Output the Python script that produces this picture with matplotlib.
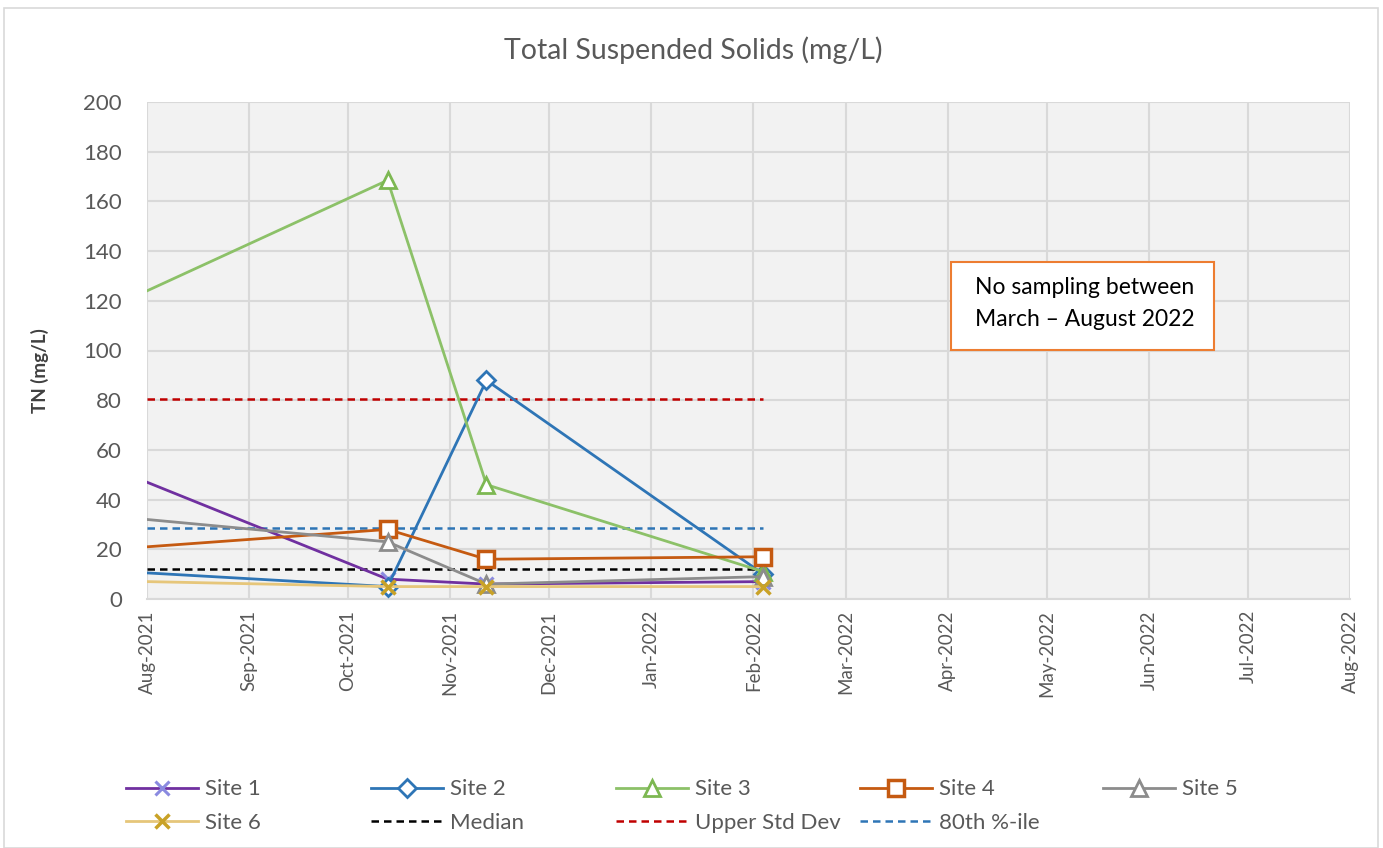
import matplotlib
matplotlib.use("Agg")
import matplotlib.pyplot as plt
import matplotlib.dates as mdates
from matplotlib.patches import Rectangle
from datetime import datetime

plt.rcParams['font.family'] = ['Lato', 'DejaVu Sans']

# sampling dates (first point is the clipped value at the left axis edge)
dates = [datetime(2021, 8, 1), datetime(2021, 10, 13), datetime(2021, 11, 12), datetime(2022, 2, 4)]
site1 = [47, 8, 6, 7]
site2 = [10.5, 5, 88, 10]
site3 = [124, 168.5, 46, 11]
site4 = [21, 28, 16, 17]
site5 = [32, 23, 6, 9]
site6 = [7, 5, 5, 5]
ref_dates = [datetime(2021, 8, 1), datetime(2022, 2, 4)]
median = 12
upper_std = 80.5
pct80 = 28.5

xticks = [datetime(2021, m, 1) for m in range(8, 13)] + [datetime(2022, m, 1) for m in range(1, 9)]

W, H = 1383, 848
fig = plt.figure(figsize=(W/100, H/100), dpi=100)
ax = fig.add_axes([147/W, 1 - 599/H, (1350-147)/W, (599-102)/H])
ax.set_facecolor('#F2F2F2')

mk = [1, 2, 3]
ax.plot(dates, site1, color='#7030A0', lw=2, marker='x', ms=10, mew=2.2, mec='#8A8AE0', markevery=mk, label='Site 1', zorder=3)
ax.plot(dates, site2, color='#2E75B6', lw=2, marker='D', ms=9, mew=2, mfc='white', mec='#2E75B6', markevery=mk, label='Site 2', zorder=3)
ax.plot(dates, site3, color='#8CC168', lw=2, marker='^', ms=12, mew=2, mfc='white', mec='#7DB852', markevery=mk, label='Site 3', zorder=3)
ax.plot(dates, site4, color='#C55A11', lw=2, marker='s', ms=12, mew=2.5, mfc='white', mec='#C55A11', markevery=mk, label='Site 4', zorder=3)
ax.plot(dates, site5, color='#8C8C8C', lw=2, marker='^', ms=12, mew=2, mfc='white', mec='#8C8C8C', markevery=mk, label='Site 5', zorder=3)
ax.plot(dates, site6, color='#E6C67A', lw=2, marker='x', ms=10, mew=2.5, mec='#C9A227', markevery=mk, label='Site 6', zorder=3)
ax.plot(ref_dates, [median]*2, color='black', lw=1.8, ls=(0, (3, 2)), label='Median', zorder=2)
ax.plot(ref_dates, [upper_std]*2, color='#C00000', lw=1.8, ls=(0, (3, 2)), label='Upper Std Dev', zorder=2)
ax.plot(ref_dates, [pct80]*2, color='#2E75B6', lw=1.8, ls=(0, (3, 2)), label='80th %-ile', zorder=2)

ax.set_xlim(datetime(2021, 8, 1), datetime(2022, 8, 1))
ax.set_ylim(0, 200)
ax.set_yticks(range(0, 201, 20))
ax.set_xticks(xticks)
ax.xaxis.set_major_formatter(mdates.DateFormatter('%b-%Y'))
plt.setp(ax.get_xticklabels(), rotation=90)
ax.tick_params(axis='both', colors='#595959', length=0)
ax.tick_params(axis='y', labelsize=16, pad=18)
ax.tick_params(axis='x', labelsize=13.5, pad=8)
ax.grid(True, color='#D9D9D9', lw=1.5)
ax.set_axisbelow(True)
for s in ['top', 'right', 'left']:
    ax.spines[s].set_visible(False)
ax.spines['bottom'].set_color('#D9D9D9')
ax.spines['bottom'].set_linewidth(1.5)

fig.text(40/W, 1 - 371/H, 'TN (mg/L)', rotation=90, fontsize=13.5, fontweight='bold', color='#404040',
         ha='center', va='center')
fig.text(693/W, 1 - 50/H, 'Total Suspended Solids (mg/L)', ha='center', va='center', fontsize=20.5, color='#595959')

# annotation box
fig.patches.append(Rectangle((951/W, 1 - 350/H), (1214-951)/W, (350-262)/H,
                             transform=fig.transFigure, facecolor='white', edgecolor='#ED7D31', lw=1.5, zorder=5))
fig.text(975/W, 1 - 287/H, 'No sampling between', fontsize=16.5, color='black', va='center', ha='left', zorder=6)
fig.text(975/W, 1 - 319/H, 'March \u2013 August 2022', fontsize=16.5, color='black', va='center', ha='left', zorder=6)

# outer chart border
fig.patches.append(Rectangle((4/W, 0.0), (1378-4)/W, (H-8)/H, transform=fig.transFigure,
                             facecolor='none', edgecolor='#D9D9D9', lw=1.2))

# legend: five equally spaced columns like the original
h, l = ax.get_legend_handles_labels()
columns = [[0, 5], [1, 6], [2, 7], [3, 8], [4]]
col_x = [122, 367, 612, 856, 1099]
for xs, idx in zip(col_x, columns):
    leg = fig.legend([h[i] for i in idx], [l[i] for i in idx], loc='upper left',
                     bbox_to_anchor=(xs/W, 1 - 775/H), frameon=False, fontsize=16,
                     handlelength=3.2, labelspacing=0.62, handletextpad=0.35,
                     borderaxespad=0, borderpad=0.2)
    for t in leg.get_texts():
        t.set_color('#595959')

fig.savefig('out.png', dpi=100)
